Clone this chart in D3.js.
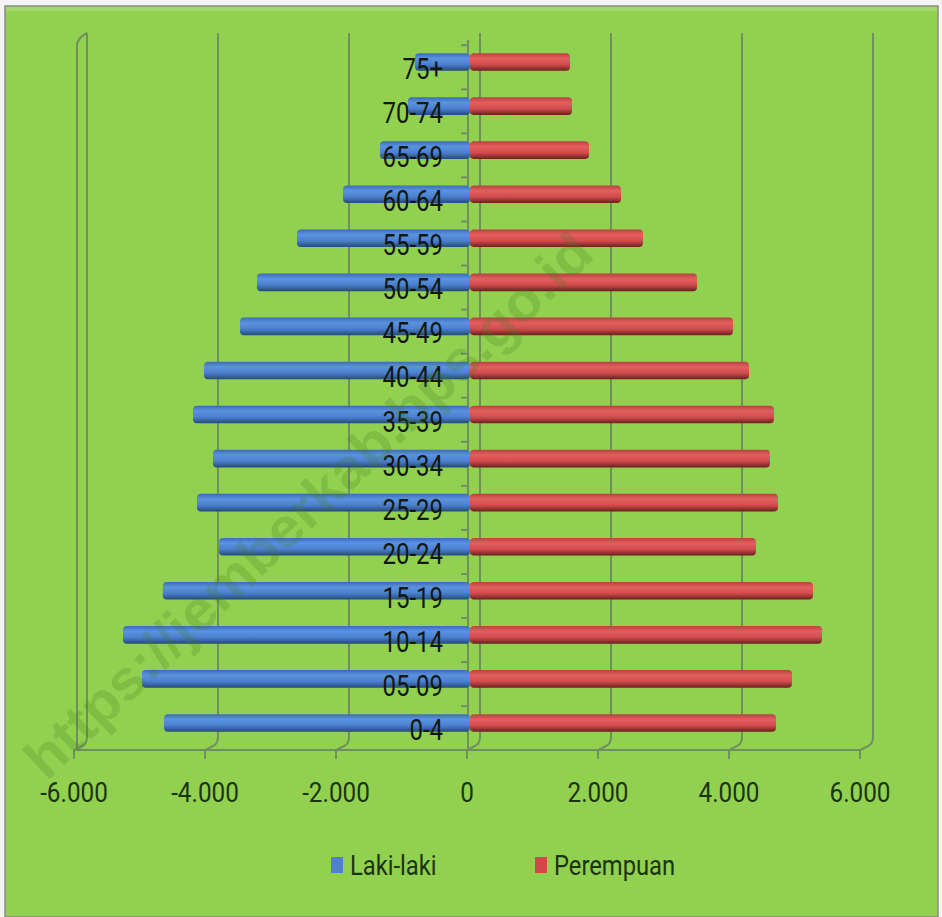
<!DOCTYPE html>
<html>
<head>
<meta charset="utf-8">
<script src="https://cdn.jsdelivr.net/npm/d3@7"></script>
<style>
  body { margin: 0; background: #f4f4f4; }
  svg { display: block; }
  .grid { fill: none; stroke: #6f8f5f; stroke-width: 2; }
  .cat-label { font-family: Roboto, "Liberation Sans", sans-serif; font-size: 30px; fill: #121810; }
  .x-label { font-family: Roboto, "Liberation Sans", sans-serif; font-size: 27px; fill: #1b3410; }
  .legend-label { font-family: Roboto, "Liberation Sans", sans-serif; font-size: 27px; fill: #1b3410; }
</style>
</head>
<body>
<svg id="chart" width="942" height="917"></svg>
<script>
// Age groups, youngest first
const ageGroups = ["0-4", "05-09", "10-14", "15-19", "20-24", "25-29", "30-34", "35-39",
                   "40-44", "45-49", "50-54", "55-59", "60-64", "65-69", "70-74", "75+"];

// Laki-laki (plotted to the left)
const male = [4672, 5008, 5298, 4690, 3832, 4168, 3924, 4229,
              4061, 3511, 3252, 2641, 1939, 1374, 947, 840];

// Perempuan (plotted to the right)
const female = [4672, 4916, 5374, 5237, 4366, 4702, 4580, 4641,
                4260, 4015, 3466, 2641, 2305, 1817, 1557, 1527];

const xTicks = [-6000, -4000, -2000, 0, 2000, 4000, 6000];
const seriesNames = ["Laki-laki", "Perempuan"];

const svg = d3.select("#chart");
const defs = svg.append("defs");

/**
 * Vertical gradient giving the bars a rounded, tube-like look
 */
function tubeGradient(id, stops) {
  const g = defs.append("linearGradient").attr("id", id)
    .attr("x1", 0).attr("y1", 0).attr("x2", 0).attr("y2", 1);
  stops.forEach(s => g.append("stop").attr("offset", s[0]).attr("stop-color", s[1]));
}
tubeGradient("blueTube", [[0, "#3c6db2"], [0.3, "#5b93e0"], [0.65, "#4a7fcc"], [1, "#26497a"]]);
tubeGradient("redTube", [[0, "#b64343"], [0.3, "#e45e5e"], [0.65, "#d04c4c"], [1, "#6c1e1e"]]);

// Chart area
svg.append("rect").attr("x", 5).attr("y", 6).attr("width", 933).attr("height", 911)
  .attr("fill", "#92d050").attr("stroke", "#8a8a8a").attr("stroke-width", 1.5);
svg.append("rect").attr("x", 6).attr("y", 7).attr("width", 931).attr("height", 4)
  .attr("fill", "#a3d86a");

// Scales: front plane for labels, back wall offset for the 3D look
const xFront = d3.scaleLinear().domain([-6000, 6000]).range([74, 860]);
const backDx = 13, barDx = 3;
const xBar = v => xFront(v) + barDx;

const y = d3.scaleBand()
  .domain(ageGroups.slice().reverse())
  .range([40, 745])
  .paddingInner(0.6)
  .paddingOuter(0.3);

// Back wall gridlines bending onto the floor
const grid = svg.append("g");
grid.selectAll(".grid").data(xTicks).enter()
  .append("path")
  .attr("class", "grid")
  .attr("d", v => {
    const xb = xFront(v) + backDx, xf = xFront(v);
    return "M" + xb + ",33V737Q" + xb + ",744 " + (xb - 5) + ",746L" + xf + ",750V759";
  });

// Left wall front edge
grid.append("path").attr("class", "grid")
  .attr("d", "M" + xBar(-6000) + ",748V46Q" + xBar(-6000) + ",38 " + (xFront(-6000) + backDx) + ",33");

// Floor front edge
grid.append("path").attr("class", "grid")
  .attr("d", "M" + xBar(-6000) + ",750H" + xFront(6000));

// Vertical axis with ticks
grid.append("path").attr("class", "grid").attr("stroke-width", 1.5)
  .attr("d", "M" + (xFront(0) + 1) + ",40V750");
grid.selectAll(".ytick").data(ageGroups).enter()
  .append("path")
  .attr("class", "grid ytick")
  .attr("stroke-width", 1.5)
  .attr("d", d => "M" + (xFront(0) - 6) + "," + (y(d) - 8) + "H" + (xFront(0) + 1));

// Bars
const rows = ageGroups.map((g, i) => ({group: g, male: male[i], female: female[i]}));

const bars = svg.append("g");
bars.selectAll(".bar-male").data(rows).enter()
  .append("rect")
  .attr("class", "bar-male")
  .attr("x", d => xBar(-d.male))
  .attr("y", d => y(d.group))
  .attr("width", d => xBar(0) - xBar(-d.male))
  .attr("height", y.bandwidth())
  .attr("rx", 4)
  .attr("fill", "url(#blueTube)");

bars.selectAll(".bar-female").data(rows).enter()
  .append("rect")
  .attr("class", "bar-female")
  .attr("x", xBar(0))
  .attr("y", d => y(d.group))
  .attr("width", d => xBar(d.female) - xBar(0))
  .attr("height", y.bandwidth())
  .attr("rx", 4)
  .attr("fill", "url(#redTube)");

// Category labels, sitting over the bars next to the axis
svg.append("g").selectAll(".cat-label").data(ageGroups).enter()
  .append("text")
  .attr("class", "cat-label")
  .attr("text-anchor", "end")
  .attr("transform", d => "translate(443," + (y(d) + y.bandwidth() / 2 + 17) + ") scale(0.8,1)")
  .text(d => d);

// Value axis labels
const fmt = v => v === 0 ? "0" : d3.format(",")(v).replace(/,/g, ".").replace("−", "-");
svg.append("g").selectAll(".x-label").data(xTicks).enter()
  .append("text")
  .attr("class", "x-label")
  .attr("text-anchor", "middle")
  .attr("transform", v => "translate(" + xFront(v) + ",802) scale(0.9,1)")
  .text(fmt);

// Legend
const legend = svg.append("g");
const legendX = [331, 535];
const legendFill = ["#4f81d0", "#d04848"];
seriesNames.forEach((name, i) => {
  legend.append("rect").attr("x", legendX[i]).attr("y", 857)
    .attr("width", 12).attr("height", 16).attr("fill", legendFill[i]);
  legend.append("text").attr("class", "legend-label")
    .attr("transform", "translate(" + (legendX[i] + 19) + ",875) scale(0.88,1)")
    .text(name);
});

// Source watermark
svg.append("text")
  .attr("transform", "translate(308,505) rotate(-43.7)")
  .attr("text-anchor", "middle")
  .attr("dy", "0.35em")
  .attr("font-family", "Liberation Sans, Arial, sans-serif")
  .attr("font-weight", "bold")
  .attr("font-size", 56)
  .attr("textLength", 760)
  .attr("lengthAdjust", "spacingAndGlyphs")
  .attr("fill", "#3f7a22")
  .attr("fill-opacity", 0.22)
  .text("https://jemberkab.bps.go.id");
</script>
</body>
</html>
